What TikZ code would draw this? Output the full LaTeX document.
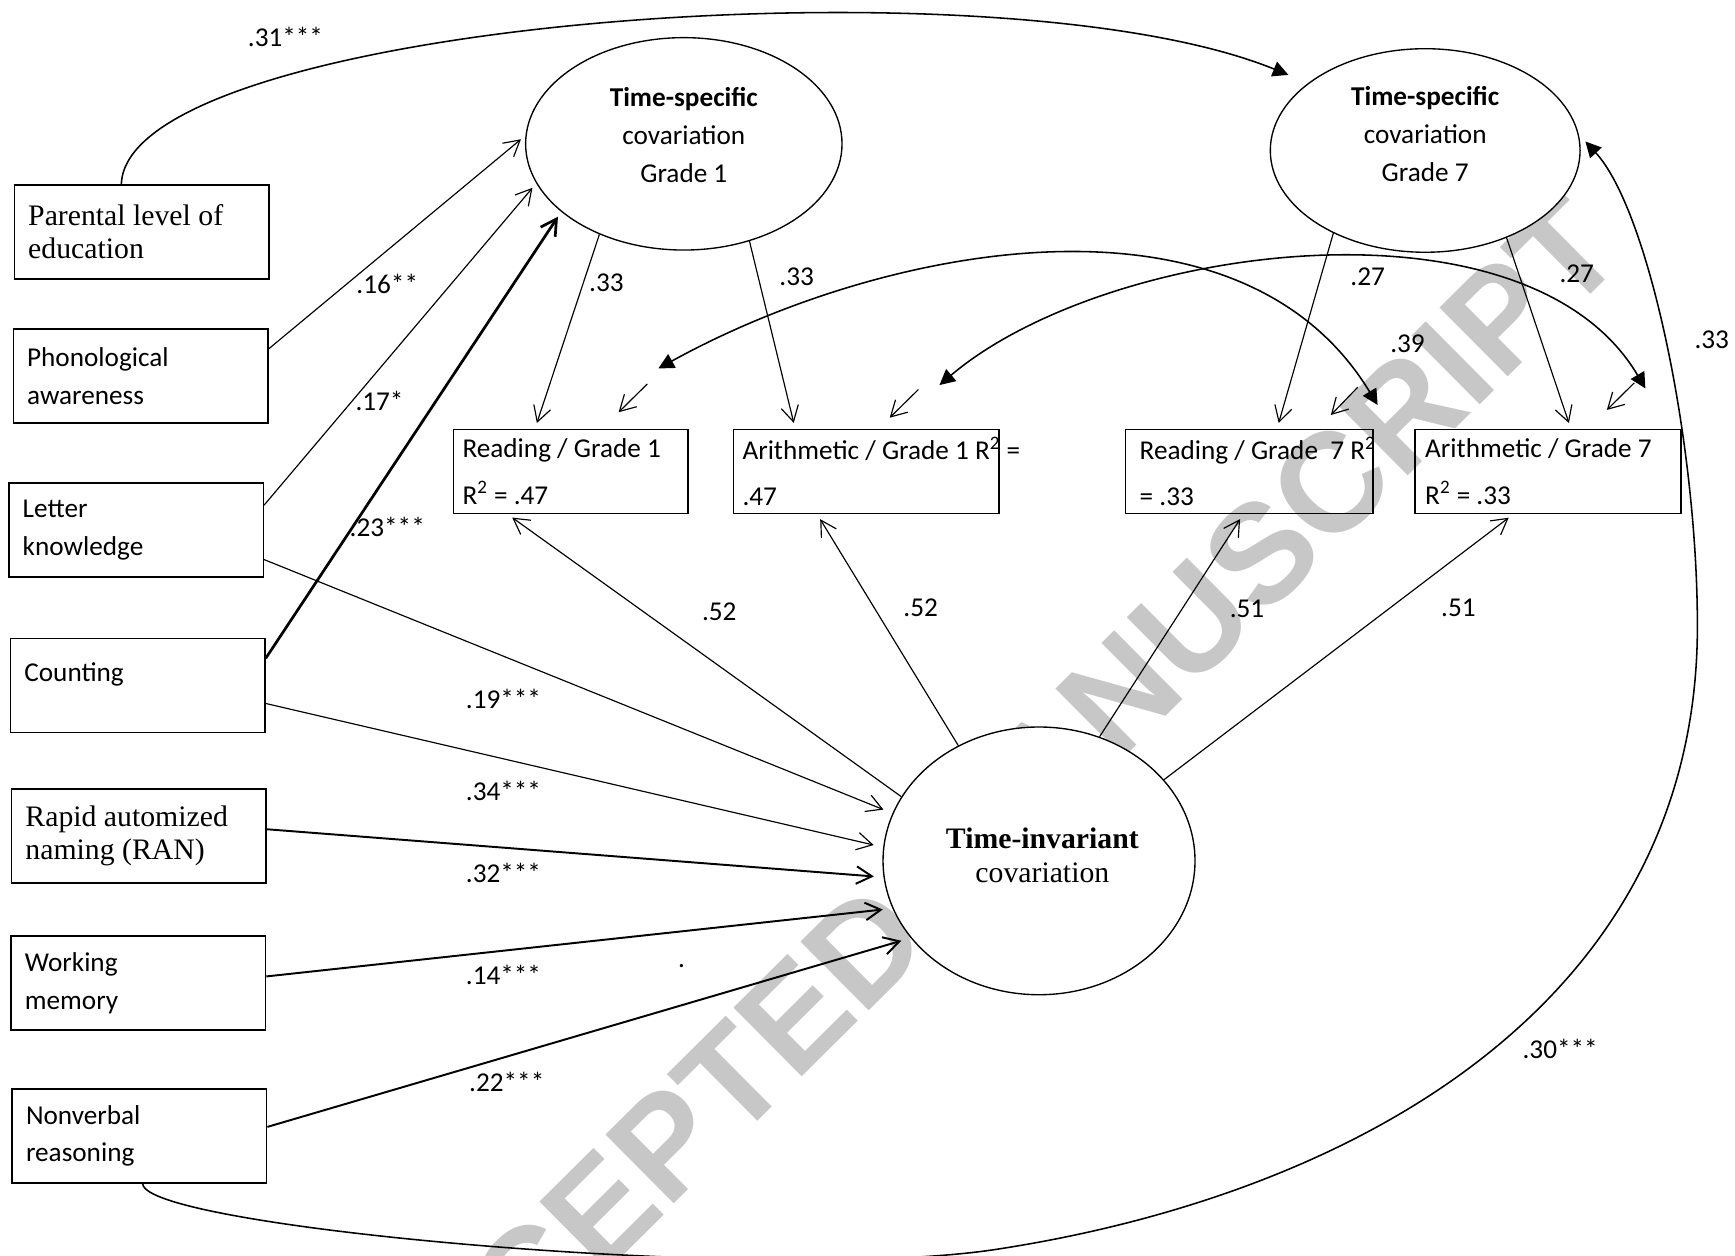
\documentclass[tikz,border=0pt]{standalone}
\usepackage{fontspec}
\setmainfont{Carlito}
\newfontfamily\timesfont{Liberation Serif}
\newfontfamily\markfont{Liberation Sans}
\usetikzlibrary{arrows.meta,shapes.geometric}

\newcommand\calfont{\fontsize{14}{19.4}\selectfont}
\newcommand\tmsfont{\timesfont\fontsize{15.3}{17}\selectfont}
\newcommand\midfont{\fontsize{14}{24}\selectfont}

\tikzset{
  tri/.tip={Triangle[length=8pt,width=8pt]},
  barb/.tip={Straight Barb[length=8pt,width=9pt]},
  var/.style={draw, line width=0.8pt, minimum width=4.6cm, minimum height=1.7cm,
    text width=4.1cm, inner xsep=0.25cm, align=flush left, font=\calfont},
  tvar/.style={var, font=\tmsfont},
  outc/.style={draw, line width=0.8pt, minimum height=1.52cm, inner xsep=0.16cm,
    align=flush left, font=\midfont},
  latent/.style={draw, ellipse, line width=0.7pt, inner sep=0pt, fill=white},
  coef/.style={font=\calfont, inner sep=1pt},
  reg/.style={-barb, line width=0.6pt, shorten >=3pt},
  cov/.style={tri-tri, line width=0.8pt},
  dirc/.style={-tri, line width=0.8pt},
}

\begin{document}
\begin{tikzpicture}[x=0.02cm, y=-0.02cm]
  \useasboundingbox (0,0) rectangle (1568,1135);

  %%%%% WATERMARK %%%%%
  \node[rotate=44.8, text=black!22, font=\markfont\bfseries\fontsize{72.5}{72.5}\selectfont]
    (mark) at (879,759) {ACCEPTED MANUSCRIPT};

  %%%%% PREDICTORS %%%%%
  \node[tvar] (pe) at (128,209.5) {Parental level of\\education};
  \node[var] (pa) at (127,340) {Phonological\\awareness};
  \node[var] (lk) at (123,479) {Letter\\knowledge};
  \node[var] (ct) at (124.5,619.5) {Counting\\[-6pt]\mbox{}};
  \node[tvar] (ran) at (125.5,755.5) {Rapid automized\\naming (RAN)};
  \node[var] (wm) at (125,888.5) {Working\\memory};
  \node[var] (nv) at (126,1026.5) {Nonverbal\\reasoning};

  %%%%% OUTCOMES %%%%%
  \node[outc, minimum width=4.24cm, text width=3.92cm] (r1) at (516,426)
    {Reading / Grade 1\\R\textsuperscript{2} = .47};
  \node[outc, minimum width=4.8cm, text width=4.48cm] (a1) at (783,426)
    {\mbox{Arithmetic / Grade 1 R\textsuperscript{2} =}\\.47};
  \node[outc, minimum width=4.48cm, inner xsep=0.26cm, text width=3.96cm] (r7) at (1129,426)
    {\mbox{Reading / Grade\ \ 7 R\textsuperscript{2}}\\= .33};
  \node[outc, minimum width=4.8cm, inner xsep=0.18cm, text width=4.44cm] (a7) at (1399,426)
    {Arithmetic / Grade 7\\R\textsuperscript{2} = .33};

  %%%%% LATENT %%%%%
  \node[latent, minimum width=5.72cm, minimum height=3.84cm] (ts1) at (618,130) {};
  \node[font=\calfont, align=center] (ts1t) at (618,122)
    {\textbf{Time-specific}\\covariation\\Grade 1};
  \node[latent, minimum width=5.6cm, minimum height=3.68cm] (ts7) at (1288,136) {};
  \node[font=\calfont, align=center] (ts7t) at (1288,121)
    {\textbf{Time-specific}\\covariation\\Grade 7};
  \node[latent, minimum width=5.64cm, minimum height=4.84cm] (ti) at (939,778) {};
  \node[font=\tmsfont, align=center] (tit) at (942,773)
    {\textbf{Time-invariant}\\covariation};

  %%%%% PATHS TO GRADE 1 FACTOR %%%%%
  \draw[reg] (pa.12) -- (ts1.177);
  \draw[reg] (lk.11) -- (ts1.195);
  \draw[reg, line width=1.4pt] (ct.12) -- (ts1.209);

  \draw[reg] (ts1.227) -- (r1.130);
  \draw[reg] (ts1.-56) -- (a1.149);
  \draw[reg] (ts7.222) -- (r7.57);
  \draw[reg] (ts7.-47) -- (a7.62);

  %%%%% TIME-INVARIANT %%%%%
  \draw[reg] (ti.155) -- (r1.214);
  \draw[reg] (ti.125) -- (a1.221);
  \draw[reg] (ti.64) -- (r7.262);
  \draw[reg] (ti.33) -- (a7.231);

  \draw[reg, shorten >=5pt] (lk.-13) -- (ti.162);
  \draw[reg, shorten >=5pt] (ct.-8) -- (ti.175);
  \draw[reg, shorten >=5pt, line width=1pt] (ran.3) -- (ti.186);
  \draw[reg, shorten >=5pt, line width=1pt] (wm.3) -- (ti.198);
  \draw[reg, shorten >=5pt, line width=1pt] (nv.4) -- (ti.211);

  %%%%% RESIDUALS %%%%%
  \coordinate (r1e) at (585,347);
  \coordinate (a1e) at (830,352);
  \coordinate (r7e) at (1227,350);
  \coordinate (a7e) at (1477,346);
  \draw[reg, shorten >=0.42cm] (r1e) -- (r1.54);
  \draw[reg, shorten >=0.28cm] (a1e) -- (a1.74);
  \draw[reg, shorten >=0.34cm] (r7e) -- (r7.32);
  \draw[reg, shorten >=0.48cm] (a7e) -- (a7.47);

  %%%%% COVARIANCES %%%%%
  \coordinate (r1c) at (595,333);
  \coordinate (r7c) at (1245,366);
  \coordinate (a1c) at (849,348);
  \coordinate (a7c) at (1487,351);
  \draw[cov] (r1c) .. controls (800,220) and (1120,160) .. (r7c);
  \draw[cov] (a1c) .. controls (1000,220) and (1380,170) .. (a7c);

  \draw[dirc, shorten >=11pt] (pe.113) .. controls (115,20) and (900,-40) .. (ts7.150);
  \draw[dirc, shorten >=5pt] (nv.-86) .. controls (129,1110) and (700,1160) .. (901,1129)
    .. controls (1220,1080) and (1534,910) .. (1534,566)
    .. controls (1534,400) and (1490,190) .. (ts7.6);

  %%%%% COEFFICIENTS %%%%%
  \node[coef] (k31) at (258,33) {.31***};
  \node[coef] (k16) at (350,257) {.16**};
  \node[coef] (k17) at (343,362) {.17*};
  \node[coef] (k23) at (350,476) {.23***};
  \node[coef] (k33a) at (548,256) {.33};
  \node[coef] (k33b) at (720,250) {.33};
  \node[coef] (k27a) at (1236,250) {.27};
  \node[coef] (k27b) at (1425,247) {.27};
  \node[coef] (k39) at (1272,311) {.39};
  \node[coef] (k33c) at (1547,307) {.33};
  \node[coef] (k52a) at (650,553) {.52};
  \node[coef] (k52b) at (832,549) {.52};
  \node[coef] (k51a) at (1127,550) {.51};
  \node[coef] (k51b) at (1318,549) {.51};
  \node[coef] (k19) at (455,632) {.19***};
  \node[coef] (k34) at (455,715) {.34***};
  \node[coef] (k32) at (455,789) {.32***};
  \node[coef] (k14) at (455,881) {.14***};
  \node[coef] (k22) at (458,978) {.22***};
  \node[coef] (k30) at (1410,948) {.30***};
  \node[coef] (dot) at (616,873) {.};
\end{tikzpicture}
\end{document}
